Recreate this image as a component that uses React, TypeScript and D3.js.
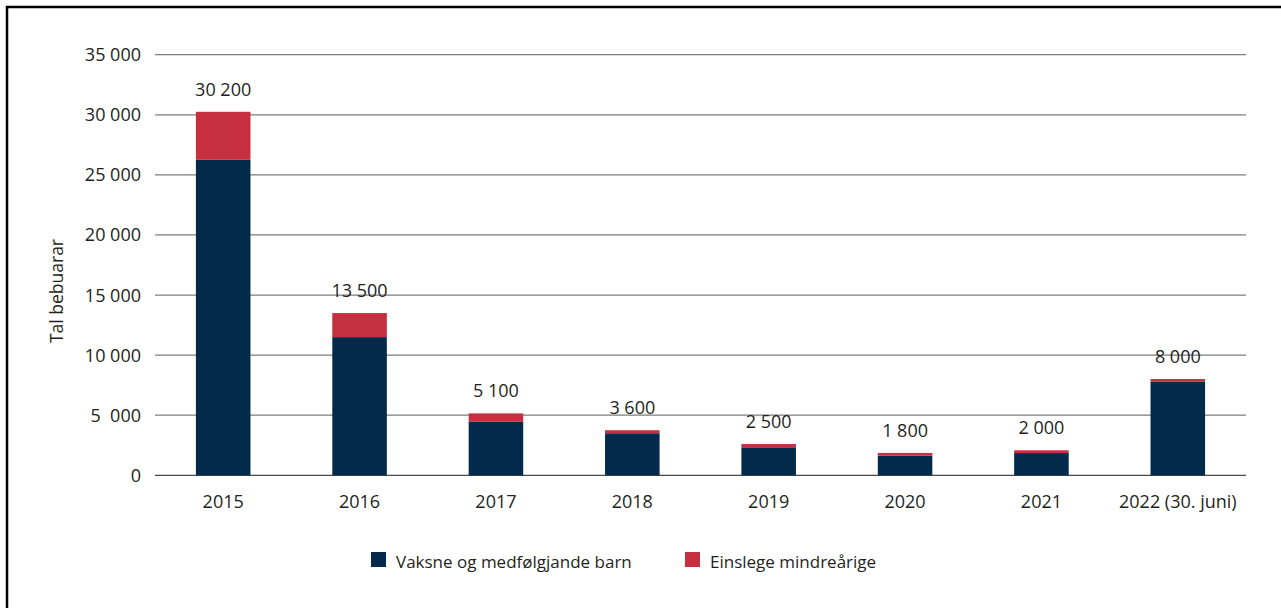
import React from "react";
import { select, scaleBand, scaleLinear, stack } from "d3";

const categories = ["2015", "2016", "2017", "2018", "2019", "2020", "2021", "2022 (30. juni)"];
const vaksne = [26250, 11500, 4450, 3500, 2330, 1630, 1850, 7780];
const einslege = [4000, 2000, 700, 250, 270, 230, 230, 230];
const totalLabels = ["30 200", "13 500", "5 100", "3 600", "2 500", "1 800", "2 000", "8 000"];
const yTicks = [0, 5000, 10000, 15000, 20000, 25000, 30000, 35000];
const yTickLabels = ["0", "5  000", "10 000", "15 000", "20 000", "25 000", "30 000", "35 000"];
const seriesNames = ["Vaksne og medfølgjande barn", "Einslege mindreårige"];
const colors = ["#022b4b", "#c62f3f"];

const W = 1281;
const H = 608;
const FONT = "'Open Sans', sans-serif";

export default function App() {
  const svgRef = React.useRef<SVGSVGElement>(null);

  React.useEffect(() => {
    const svg = select(svgRef.current);
    svg.selectAll("*").remove();

    const x = scaleBand<string>()
      .domain(categories)
      .range([155, 1246])
      .paddingInner(0.6)
      .paddingOuter(0.3);
    const y = scaleLinear().domain([0, 35000]).range([475.3, 54.7]);

    // frame
    svg
      .append("rect")
      .attr("x", 7)
      .attr("y", 7)
      .attr("width", W + 20)
      .attr("height", H + 20)
      .attr("fill", "none")
      .attr("stroke", "#000")
      .attr("stroke-width", 2.5);

    // grid + y labels
    const g = svg.append("g");
    g.selectAll(".grid")
      .data(yTicks)
      .join("line")
      .attr("x1", 155)
      .attr("x2", 1246)
      .attr("y1", d => y(d))
      .attr("y2", d => y(d))
      .attr("stroke", d => (d === 0 ? "#4a4a4a" : "#7d7d7d"))
      .attr("stroke-width", 1.3);

    g.selectAll(".ytick")
      .data(yTicks)
      .join("text")
      .attr("x", 141)
      .attr("y", d => y(d) + 6.5)
      .attr("text-anchor", "end")
      .style("white-space", "pre")
      .attr("font-family", FONT)
      .attr("font-size", 18)
      .attr("fill", "#231f20")
      .text((d, i) => yTickLabels[i]);

    // stacked bars
    const rows = categories.map((c, i) => ({ cat: c, a: vaksne[i], b: einslege[i] }));
    const layers = stack<any>().keys(["a", "b"])(rows);
    svg
      .selectAll(".layer")
      .data(layers)
      .join("g")
      .attr("fill", (d, i) => colors[i])
      .selectAll("rect")
      .data(d => d)
      .join("rect")
      .attr("x", d => x(d.data.cat)!)
      .attr("width", x.bandwidth())
      .attr("y", d => y(d[1]))
      .attr("height", d => y(d[0]) - y(d[1]));

    // total labels
    svg
      .selectAll(".total")
      .data(rows)
      .join("text")
      .attr("x", d => x(d.cat)! + x.bandwidth() / 2)
      .attr("y", d => y(d.a + d.b) - 16)
      .attr("text-anchor", "middle")
      .attr("font-family", FONT)
      .attr("font-size", 18)
      .attr("fill", "#231f20")
      .text((d, i) => totalLabels[i]);

    // x labels
    svg
      .selectAll(".xlab")
      .data(categories)
      .join("text")
      .attr("x", d => x(d)! + x.bandwidth() / 2)
      .attr("y", 508)
      .attr("text-anchor", "middle")
      .attr("font-family", FONT)
      .attr("font-size", 18)
      .attr("fill", "#231f20")
      .text(d => d);

    // y axis title
    svg
      .append("text")
      .attr("transform", "translate(63,291) rotate(-90)")
      .attr("text-anchor", "middle")
      .attr("font-family", FONT)
      .attr("font-size", 17.5)
      .attr("fill", "#231f20")
      .text("Tal bebuarar");

    // legend
    const legendX = [371, 685];
    const lg = svg
      .selectAll(".legend")
      .data(seriesNames)
      .join("g")
      .attr("transform", (d, i) => `translate(${legendX[i]},552)`);
    lg.append("rect").attr("width", 15).attr("height", 15).attr("fill", (d, i) => colors[i]);
    lg.append("text")
      .attr("x", 25)
      .attr("y", 16)
      .attr("font-family", FONT)
      .attr("font-size", 17)
      .attr("fill", "#231f20")
      .text(d => d);
  }, []);

  return (
    <svg
      ref={svgRef}
      width={W}
      height={H}
      style={{ position: "absolute", left: 0, top: 0, background: "#fff" }}
    />
  );
}
